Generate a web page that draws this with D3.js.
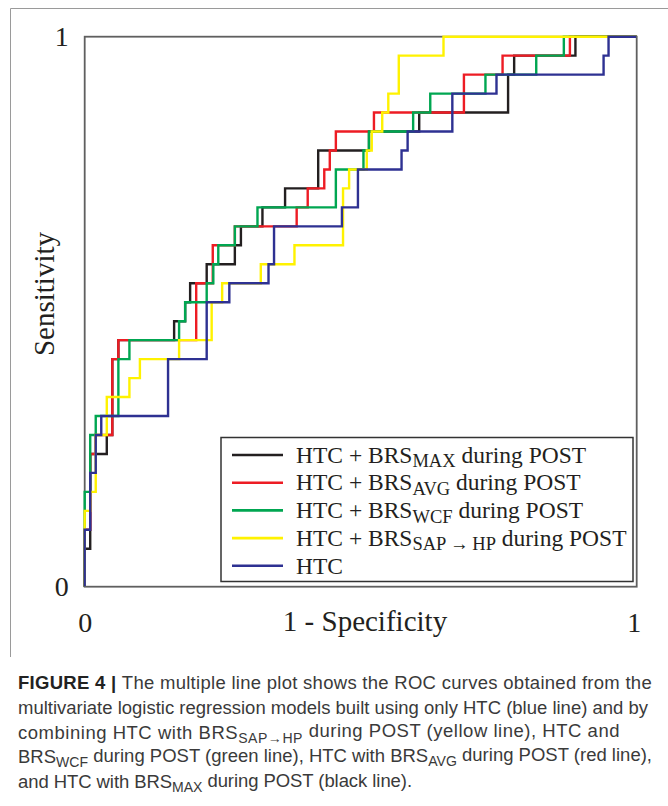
<!DOCTYPE html>
<html>
<head>
<meta charset="utf-8">
<script src="https://cdn.jsdelivr.net/npm/d3@7"></script>
<style>
  body { margin: 0; background: #fff; }
  svg { display: block; }
</style>
</head>
<body>
<div id="chart"></div>
<script>
// ROC steps: at each fpr the curve rises to tpr (count of 29 positives)
const nPos = 29;

const blackFpr = [0, 0, 0.010, 0.040, 0.050, 0.061, 0.162, 0.182, 0.191, 0.221, 0.272, 0.283, 0.322, 0.363, 0.423, 0.515, 0.606, 0.767, 0.778, 0.889, 1];
const blackTpr = [0, 2, 7, 8, 12, 13, 14, 15, 16, 17, 18, 19, 20, 21, 23, 24, 25, 27, 28, 29, 29];

const redFpr = [0, 0, 0.010, 0.020, 0.050, 0.061, 0.202, 0.232, 0.272, 0.384, 0.404, 0.434, 0.444, 0.455, 0.524, 0.687, 0.757, 0.879, 1];
const redTpr = [0, 3, 7, 8, 12, 13, 16, 18, 19, 20, 21, 22, 23, 24, 25, 27, 28, 29, 29];

const greenFpr = [0, 0, 0.010, 0.020, 0.061, 0.081, 0.171, 0.182, 0.221, 0.233, 0.242, 0.272, 0.313, 0.455, 0.505, 0.515, 0.595, 0.626, 0.726, 0.818, 0.868, 1];
const greenTpr = [0, 5, 8, 9, 12, 13, 14, 15, 16, 17, 18, 19, 20, 22, 23, 24, 25, 26, 27, 28, 29, 29];

const yellowFpr = [0, 0, 0.010, 0.020, 0.040, 0.081, 0.100, 0.171, 0.230, 0.249, 0.319, 0.380, 0.468, 0.479, 0.511, 0.520, 0.539, 0.550, 0.569, 0.650, 1];
const yellowTpr = [0, 4, 5, 8, 10, 11, 12, 13, 15, 16, 17, 18, 21, 22, 23, 24, 25, 26, 28, 29, 29];

const blueFpr = [0, 0, 0.010, 0.020, 0.030, 0.151, 0.221, 0.262, 0.333, 0.343, 0.466, 0.495, 0.574, 0.585, 0.666, 0.746, 0.940, 0.949, 1];
const blueTpr = [0, 3, 6, 8, 9, 12, 15, 16, 17, 19, 20, 22, 23, 24, 26, 27, 28, 29, 29];

const legendSubs = ["MAX", "AVG", "WCF", "SAP\u2009\u2192\u2009HP", null];
const seriesColors = ["#231f20", "#ed1c24", "#00a651", "#fff200", "#2e3192"];

const captionLines = [
  [{t: "FIGURE 4 | ", b: true}, {t: "The multiple line plot shows the ROC curves obtained from the"}],
  [{t: "multivariate logistic regression models built using only HTC (blue line) and by"}],
  [{t: "combining HTC with BRS"}, {t: "SAP\u2192HP", s: true}, {t: " during POST (yellow line), HTC and"}],
  [{t: "BRS"}, {t: "WCF", s: true}, {t: " during POST (green line), HTC with BRS"}, {t: "AVG", s: true}, {t: " during POST (red line),"}],
  [{t: "and HTC with BRS"}, {t: "MAX", s: true}, {t: " during POST (black line)."}]
];
// where each caption line ends in the figure
const captionEnds = [652, 648, 620, 652, 412];

const series = [
  {fpr: blackFpr, tpr: blackTpr},
  {fpr: redFpr, tpr: redTpr},
  {fpr: greenFpr, tpr: greenTpr},
  {fpr: yellowFpr, tpr: yellowTpr},
  {fpr: blueFpr, tpr: blueTpr}
].map((s, i) => ({
  color: seriesColors[i],
  sub: legendSubs[i],
  points: s.fpr.map((f, j) => ({fpr: f, tpr: s.tpr[j] / nPos}))
}));

const W = 668, H = 806;
const plot = {left: 84.7, right: 636.7, top: 36.7, bottom: 586.7};
const serif = "'Liberation Serif', 'Times New Roman', serif";

const svg = d3.select("#chart").append("svg")
  .attr("width", W)
  .attr("height", H);

// figure frame (top and left edges)
svg.append("path")
  .attr("d", `M10.5,657 V8.5 H${W}`)
  .attr("fill", "none")
  .attr("stroke", "#9a9a9a")
  .attr("stroke-width", 1);

const x = d3.scaleLinear().domain([0, 1]).range([plot.left, plot.right]);
const y = d3.scaleLinear().domain([0, 1]).range([plot.bottom, plot.top]);

// plot border, under the curves
svg.append("rect")
  .attr("x", plot.left)
  .attr("y", plot.top)
  .attr("width", plot.right - plot.left)
  .attr("height", plot.bottom - plot.top)
  .attr("fill", "none")
  .attr("stroke", "#5f5f5f")
  .attr("stroke-width", 1.8);

// curves, black first so blue ends on top
const line = d3.line()
  .x(d => x(d.fpr))
  .y(d => y(d.tpr))
  .curve(d3.curveStepAfter);

svg.selectAll(".roc")
  .data(series)
  .enter().append("path")
  .attr("class", "roc")
  .attr("d", d => line(d.points))
  .attr("fill", "none")
  .attr("stroke", d => d.color)
  .attr("stroke-width", 2.4)
  .attr("stroke-linejoin", "miter");

// axes: only the 0 and 1 labels
const yAxis = svg.append("g")
  .attr("transform", `translate(${plot.left},0)`)
  .call(d3.axisLeft(y).tickValues([0, 1]).tickFormat(d3.format("d")).tickSize(0).tickPadding(16));
const xAxis = svg.append("g")
  .attr("transform", `translate(0,${plot.bottom})`)
  .call(d3.axisBottom(x).tickValues([0, 1]).tickFormat(d3.format("d")).tickSize(0).tickPadding(25));
[yAxis, xAxis].forEach(g => {
  g.select(".domain").remove();
  g.selectAll("text")
    .style("font-family", serif)
    .style("font-size", "28px")
    .style("fill", "#231f20");
});
xAxis.selectAll(".tick").filter(d => d === 1).select("text").attr("dx", -3);

svg.append("text")
  .attr("x", 365)
  .attr("y", 631)
  .attr("text-anchor", "middle")
  .style("font-family", serif)
  .style("font-size", "29px")
  .style("fill", "#231f20")
  .text("1 - Specificity");

svg.append("text")
  .attr("transform", "translate(54,294) rotate(-90)")
  .attr("text-anchor", "middle")
  .style("font-family", serif)
  .style("font-size", "29px")
  .style("fill", "#231f20")
  .text("Sensitivity");

// legend
const leg = svg.append("g");
leg.append("rect")
  .attr("x", 221)
  .attr("y", 437.5)
  .attr("width", 412)
  .attr("height", 144)
  .attr("fill", "#fff")
  .attr("stroke", "#333")
  .attr("stroke-width", 1.5);

const rowH = 27.7;
const rows = leg.selectAll(".row")
  .data(series)
  .enter().append("g")
  .attr("class", "row")
  .attr("transform", (d, i) => `translate(0,${455 + i * rowH})`);

rows.append("line")
  .attr("x1", 232)
  .attr("x2", 283)
  .attr("stroke", d => d.color)
  .attr("stroke-width", 2.6);

const rowText = rows.append("text")
  .attr("x", 296)
  .attr("y", 7.7)
  .style("font-family", serif)
  .style("font-size", "23.5px")
  .style("fill", "#231f20");

rowText.each(function(d) {
  const t = d3.select(this);
  if (!d.sub) { t.text("HTC"); return; }
  t.append("tspan").text("HTC + BRS");
  t.append("tspan").attr("dy", 4.5).style("font-size", "18.5px").text(d.sub);
  t.append("tspan").attr("dy", -4.5).text(" during POST");
});

// caption
const capFont = "'Liberation Sans', Arial, sans-serif";
const capBase = 689, capStep = 24.8;
const capTexts = captionLines.map((parts, i) => {
  const t = svg.append("text")
    .attr("x", 18)
    .attr("y", capBase + i * capStep)
    .style("font-family", capFont)
    .style("font-size", "16px")
    .style("fill", "#3a3a3a");
  parts.forEach((p, j) => {
    const sp = t.append("tspan").text(p.t);
    if (p.b) sp.style("font-weight", "bold").style("fill", "#222");
    if (p.s) sp.attr("dy", "0.28em").style("font-size", "0.76em");
    else if (j > 0 && parts[j - 1].s) sp.attr("dy", "-0.28em");
  });
  return t;
});
// size from the plain second line, then nudge letter spacing so each line ends where it does
const len2 = capTexts[1].node().getComputedTextLength();
const capSize = 16 * (captionEnds[1] - 18) / len2;
capTexts.forEach((t, i) => {
  t.style("font-size", capSize + "px");
  const n = t.text().length;
  const w = t.node().getComputedTextLength();
  t.style("letter-spacing", ((captionEnds[i] - 18 - w) / n) + "px");
});
</script>
</body>
</html>
